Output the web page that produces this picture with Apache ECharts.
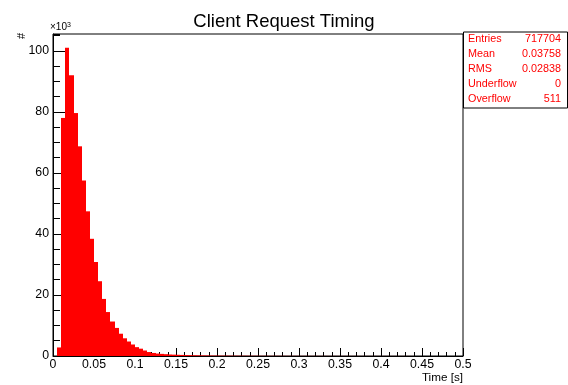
<!DOCTYPE html>
<html><head><meta charset="utf-8">
<script src="https://cdn.jsdelivr.net/npm/echarts@6/dist/echarts.min.js"></script>
<style>html,body{margin:0;padding:0;background:#fff}#c{width:568px;height:385px}</style>
</head><body><div id="c"></div>
<script>
const titleText = 'Client Request Timing';
const xAxisTitle = 'Time [s]';
const yAxisTitle = '#';
const yScaleText = '×10';
const yScaleExp = '3';
const binWidth = 0.005;
const xMin = 0, xMax = 0.5;
const yMax = 105500;
// counts per 0.005 s bin, from 0 to 0.5 s (100 bins)
const counts = [
  0, 2800, 78000, 101000, 92000, 79600, 68700, 57500, 47400, 38400,
  30800, 24500, 18700, 14400, 11300, 9200, 7300, 5800, 4750, 3770,
  2900, 2400, 1800, 1300, 1000, 800, 700, 600, 500, 450,
  400, 350, 300, 270, 240, 210, 190, 170, 150, 130,
  120, 110, 100, 95, 90, 85, 80, 75, 70, 65,
  60, 55, 52, 50, 48, 45, 42, 40, 38, 36,
  34, 32, 30, 28, 27, 26, 25, 24, 23, 22,
  21, 20, 19, 18, 18, 17, 16, 16, 15, 15,
  14, 14, 13, 13, 12, 12, 11, 11, 10, 10,
  10, 9, 9, 9, 8, 8, 8, 8, 7, 7
];
const statLabels = ['Entries', 'Mean', 'RMS', 'Underflow', 'Overflow'];
const statValues = ['717704', '0.03758', '0.02838', '0', '511'];

const FONT = '"Liberation Sans", Arial, Helvetica, sans-serif';
const RED = '#ff0000';

const binData = counts.map((c, i) => [xMin + i * binWidth, xMin + (i + 1) * binWidth, c]);

const chart = echarts.init(document.getElementById('c'), null, {renderer: 'canvas'});

const statTexts = [];
statLabels.forEach((lab, i) => {
  const cy = 40.5 + i * 14.9;
  statTexts.push({type: 'text', left: 468, top: cy - 6.5, z: 101,
    style: {text: lab, fill: RED, font: '10.8px ' + FONT}});
  statTexts.push({type: 'text', right: 7, top: cy - 6.5, z: 101,
    style: {text: statValues[i], fill: RED, font: '10.8px ' + FONT, align: 'right'}});
});

chart.setOption({
  animation: false,
  backgroundColor: '#fff',
  title: {text: titleText, left: 'center', top: 7,
    textStyle: {fontFamily: FONT, fontWeight: 'normal', fontSize: 18.5, color: '#000'}},
  grid: {left: 53, right: 105, top: 34, bottom: 29, show: true, borderColor: '#000', borderWidth: 1,
    containLabel: false, outerBoundsMode: 'none'},
  xAxis: {
    type: 'value', min: xMin, max: xMax, interval: 0.05,
    name: xAxisTitle, nameLocation: 'end', nameGap: 0,
    nameTextStyle: {fontFamily: FONT, fontSize: 11.7, color: '#000', align: 'right', verticalAlign: 'top', padding: [16, 0, 0, 0]},
    axisLine: {show: true, lineStyle: {color: '#000', width: 1}},
    axisTick: {show: true, inside: true, length: 8, lineStyle: {color: '#000'}},
    minorTick: {show: true, splitNumber: 5, length: 4, lineStyle: {color: '#000'}},
    splitLine: {show: false},
    axisLabel: {fontFamily: FONT, fontSize: 12.3, color: '#000', margin: 3}
  },
  yAxis: [{
    type: 'value', min: 0, max: yMax, interval: 5000,
    axisLine: {show: true, lineStyle: {color: '#000', width: 1}},
    axisTick: {show: true, inside: true, length: 7, lineStyle: {color: '#000'}},
    splitLine: {show: false},
    axisLabel: {show: false}
  }, {
    type: 'value', min: 0, max: yMax, interval: 20000, position: 'left',
    axisLine: {show: false},
    axisTick: {show: true, inside: true, length: 14, lineStyle: {color: '#000'}},
    splitLine: {show: false},
    axisLabel: {fontFamily: FONT, fontSize: 12.3, color: '#000', margin: 4, showMaxLabel: false,
      formatter: v => String(Math.round(v / 1000))}
  }],
  series: [{
    type: 'custom',
    xAxisIndex: 0, yAxisIndex: 0,
    clip: true,
    data: binData,
    encode: {x: [0, 1], y: 2},
    renderItem: (params, api) => {
      const v = api.value(2);
      if (!v) return null;
      const p0 = api.coord([api.value(0), v]);
      const p1 = api.coord([api.value(1), 0]);
      const x0 = Math.round(p0[0]), x1 = Math.round(p1[0]);
      return {type: 'rect', shape: {x: x0, y: p0[1], width: x1 - x0, height: p1[1] - p0[1]},
        style: {fill: RED}};
    }
  }],
  graphic: [
    {type: 'text', left: 16, top: 33, rotation: Math.PI / 2, z: 100,
      style: {text: yAxisTitle, fill: '#000', font: '11px ' + FONT}},
    {type: 'text', left: 50, top: 22, z: 100,
      style: {text: '{a|' + yScaleText + '}{b|' + yScaleExp + '}', fill: '#000',
        rich: {a: {fontFamily: FONT, fontSize: 10, fill: '#000'}, b: {fontFamily: FONT, fontSize: 7, fill: '#000', verticalAlign: 'top', padding: [0,0,4,0]}}}},
    {type: 'rect', left: 463, top: 31.5, z: 100,
      shape: {width: 104, height: 76},
      style: {fill: '#fff', stroke: '#000', lineWidth: 1}},
    ...statTexts
  ]
});
</script></body></html>
